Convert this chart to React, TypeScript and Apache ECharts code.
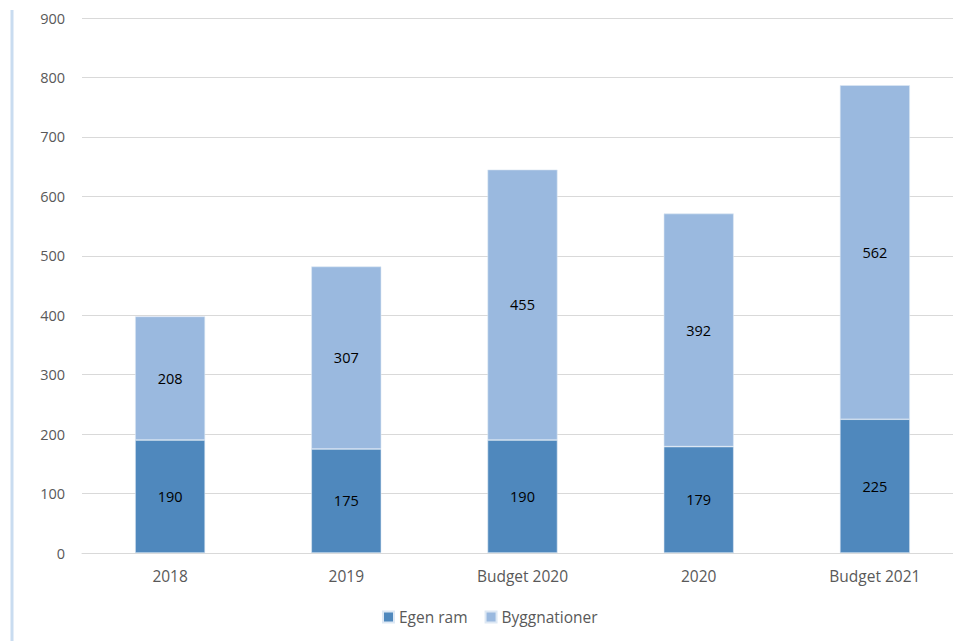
import React, { useEffect, useRef } from "react";
import * as echarts from "echarts";

const categories = ["2018", "2019", "Budget 2020", "2020", "Budget 2021"];
const egenRam = [190, 175, 190, 179, 225];
const byggnationer = [208, 307, 455, 392, 562];
const seriesNames = ["Egen ram", "Byggnationer"];

export default function App() {
  const ref = useRef<HTMLDivElement>(null);
  useEffect(() => {
    document.body.style.margin = "0";
    document.body.style.overflow = "hidden";
    const chart = echarts.init(ref.current!, null, { renderer: "svg" });
    const font = "'Open Sans', 'Liberation Sans', sans-serif";
    chart.setOption({
      animation: false,
      textStyle: { fontFamily: font },
      grid: { left: 82, right: 0, top: 18, bottom: 88 },
      graphic: [
        {
          type: "line",
          shape: { x1: 12, y1: 10, x2: 12, y2: 641 },
          style: { stroke: "#c9dcf0", lineWidth: 3 },
        },
      ],
      legend: {
        bottom: 11,
        left: 377,
        itemWidth: 11,
        itemHeight: 11,
        itemGap: 17,
        icon: "rect",
        textStyle: { color: "#595959", fontSize: 15.5, fontFamily: font },
        data: seriesNames,
      },
      xAxis: {
        type: "category",
        data: categories,
        axisLine: { lineStyle: { color: "#d9d9d9" } },
        axisTick: { show: false },
        axisLabel: { color: "#595959", fontSize: 15.5, margin: 15, fontFamily: font },
      },
      yAxis: {
        type: "value",
        min: 0,
        max: 900,
        interval: 100,
        axisLine: { show: false },
        axisTick: { show: false },
        splitLine: { lineStyle: { color: "#d9d9d9" } },
        axisLabel: { color: "#595959", fontSize: 14.5, margin: 17, fontFamily: font },
      },
      series: [
        {
          name: seriesNames[0],
          type: "bar",
          stack: "total",
          data: egenRam,
          barWidth: 70,
          itemStyle: { color: "#4f88bd", borderColor: "#dde8f4", borderWidth: 0.6 },
          label: { show: true, position: "inside", color: "#000", fontSize: 14.5, fontFamily: font },
        },
        {
          name: seriesNames[1],
          type: "bar",
          stack: "total",
          data: byggnationer,
          barWidth: 70,
          itemStyle: { color: "#9ab9df", borderColor: "#dde8f4", borderWidth: 0.6 },
          label: { show: true, position: "inside", color: "#000", fontSize: 14.5, fontFamily: font },
        },
      ],
    });
    return () => chart.dispose();
  }, []);
  return <div ref={ref} style={{ width: 963, height: 641 }} />;
}
